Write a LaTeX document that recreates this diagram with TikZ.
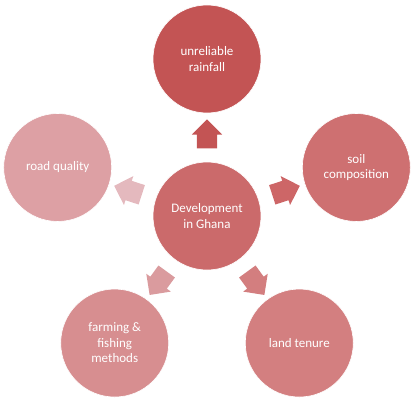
\documentclass[tikz,border=0pt]{standalone}
\usepackage{fontspec}
\setmainfont{Carlito}
\usetikzlibrary{shapes.arrows}

\definecolor{topred}{RGB}{195,84,84}
\definecolor{midred}{RGB}{203,106,107}
\definecolor{soilred}{RGB}{206,112,113}
\definecolor{landred}{RGB}{211,127,128}
\definecolor{farmred}{RGB}{215,142,144}
\definecolor{roadred}{RGB}{221,160,164}
\definecolor{soilarr}{RGB}{205,102,103}
\definecolor{landarr}{RGB}{211,126,127}
\definecolor{farmarr}{RGB}{218,155,158}
\definecolor{roadarr}{RGB}{228,185,190}

\tikzset{
  topic/.style={shape=circle,draw=white,line width=0.6pt,minimum size=108pt,inner sep=0pt,
    text=white,font=\fontsize{13}{15.5}\selectfont,align=center},
  blockarrow/.style={single arrow,draw=none,minimum height=29pt,inner xsep=0pt,inner ysep=10pt,
    single arrow head extend=5pt,single arrow head indent=0pt}
}

\begin{document}
\begin{tikzpicture}[x=1pt,y=1pt]
                \useasboundingbox (0,0) rectangle (414,400);
                \node[topic,fill=midred] (C) at (207,184) {Development\\in Ghana};
                \node[topic,fill=topred] (A) at ([shift={(90:157)}]C) {unreliable\\rainfall};
                \node[topic,fill=soilred] (B) at ([shift={(18:157)}]C) {soil\\composition};
                \node[topic,fill=landred] (D) at ([shift={(-54:157)}]C) {land tenure};
                \node[topic,fill=farmred] (E) at ([shift={(-126:157)}]C) {farming \&\\fishing\\methods};
                \node[topic,fill=roadred] (F) at ([shift={(162:157)}]C) {road quality};

                \node[blockarrow,fill=topred,rotate=90] (CA) at ([shift={(90:77)}]C) {};
                \node[blockarrow,fill=soilarr,rotate=18] (CB) at ([shift={(18:78)}]C) {};
                \node[blockarrow,fill=landarr,rotate=-54] (CD) at ([shift={(-54:78)}]C) {};
                \node[blockarrow,fill=farmarr,rotate=-126] (CE) at ([shift={(-126:78)}]C) {};
                \node[blockarrow,fill=roadarr,rotate=162] (CF) at ([shift={(162:78)}]C) {};
            \end{tikzpicture}
\end{document}
